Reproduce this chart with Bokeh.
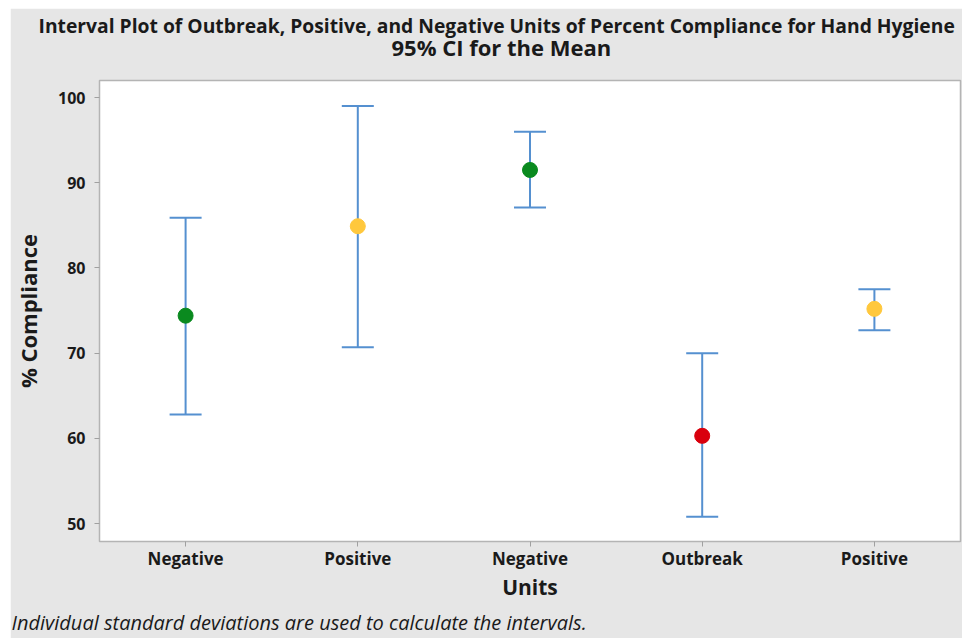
from bokeh.plotting import figure
from bokeh.models import ColumnDataSource, Whisker, TeeHead, FixedTicker, Title, Range1d
from bokeh.embed import file_html
from bokeh.resources import INLINE

units = ["Negative", "Positive", "Negative", "Outbreak", "Positive"]
positions = [1, 2, 3, 4, 5]
means = [74.4, 84.9, 91.5, 60.3, 75.2]
lowers = [62.8, 70.7, 87.1, 50.8, 72.7]
uppers = [85.9, 99.0, 96.0, 70.0, 77.5]
colors = ["#0a8a1f", "#ffc83d", "#0a8a1f", "#d9000d", "#ffc83d"]
y_ticks = [50, 60, 70, 80, 90, 100]
title_1 = "Interval Plot of Outbreak, Positive, and Negative Units of Percent Compliance for Hand Hygiene"
title_2 = "95% CI for the Mean"
footnote = "Individual standard deviations are used to calculate the intervals."

FONT = "Open Sans"
BG = "#e6e6e6"
TXT = "#1a1a1a"

src = ColumnDataSource(dict(x=positions, mean=means, lower=lowers, upper=uppers, color=colors))

p = figure(width=952, height=630, output_backend="svg", toolbar_location=None,
           x_range=Range1d(0.5, 5.5), y_range=Range1d(47.9, 102.0),
           min_border_left=89, min_border_right=2, min_border_top=72, min_border_bottom=97,
           styles={"margin-left": "10px", "margin-top": "8px"})
p.background_fill_color = "white"
p.border_fill_color = BG
p.outline_line_color = "#b4b4b4"
p.outline_line_width = 1.5
p.grid.visible = False
p.title.visible = False

t2 = Title(text=title_2, align="left", offset=292, text_font=FONT,
           text_font_size="22px", text_font_style="bold", text_color=TXT, standoff=37)
t1 = Title(text=title_1, align="left", offset=-61, text_font=FONT, text_font_size="19.3px",
           text_font_style="bold", text_color=TXT, standoff=-54)
p.add_layout(t2, "above")
p.add_layout(t1, "above")
foot = Title(text=footnote, align="left", text_font=FONT, text_font_size="20px",
             text_font_style="italic", text_color=TXT, offset=-88, standoff=6)
p.add_layout(foot, "below")

whisk = Whisker(source=src, base="x", upper="upper", lower="lower", dimension="height",
                line_color="#5590d0", line_width=2,
                upper_head=TeeHead(size=32, line_color="#5590d0", line_width=2),
                lower_head=TeeHead(size=32, line_color="#5590d0", line_width=2))
p.add_layout(whisk)
p.scatter("x", "mean", source=src, size=15, fill_color="color", line_color="color")

for ax in (p.xaxis[0], p.yaxis[0]):
    ax.axis_line_color = None
    ax.major_tick_line_color = "#a0a0a0"
    ax.major_tick_out = 5
    ax.major_tick_in = 0
    ax.minor_tick_line_color = None
    ax.major_label_text_font = FONT
    ax.major_label_text_font_style = "bold"
    ax.major_label_text_color = TXT
    ax.axis_label_text_font = FONT
    ax.axis_label_text_font_style = "bold"
    ax.axis_label_text_color = TXT

p.xaxis.ticker = FixedTicker(ticks=positions)
p.xaxis.major_label_overrides = {pos: lab for pos, lab in zip(positions, units)}
p.xaxis.major_label_text_font_size = "17px"
p.xaxis.axis_label = "Units"
p.xaxis.axis_label_text_font_size = "21px"
p.xaxis.major_label_standoff = 0
p.xaxis.axis_label_standoff = 0
p.yaxis.ticker = FixedTicker(ticks=y_ticks)
p.yaxis.major_label_text_font_size = "16px"
p.yaxis.axis_label = "% Compliance"
p.yaxis.axis_label_text_font_size = "22px"
p.yaxis.major_label_standoff = 9
p.yaxis.axis_label_standoff = 12

open("out.html", "w").write(file_html(p, INLINE))
